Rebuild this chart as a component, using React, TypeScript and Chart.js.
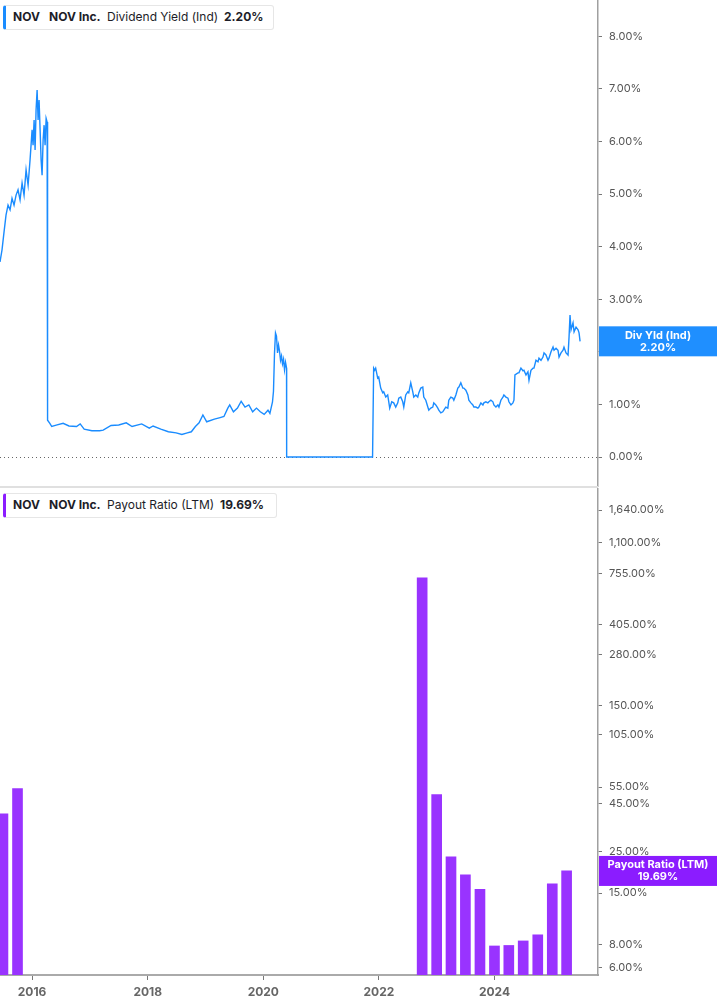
import React, { useEffect, useRef } from "react";
import Chart from "chart.js/auto";

const FONT = "Inter, 'Noto Sans', sans-serif";
const BLUE = "#1a8cff";
const BLUE_TAG = "#1f8fff";
const PURPLE = "#9933ff";
const PURPLE_TAG = "#8b1cff";

// shared time axis (decimal years)
const xMin = 2015.445;
const xMax = 2025.79;
const yearTicks = [2016, 2018, 2020, 2022, 2024];

// Dividend Yield (Ind), %
const yieldDates = [
  2015.445, 2015.48, 2015.515, 2015.549, 2015.584, 2015.619, 2015.653, 2015.688, 2015.723, 2015.757,
  2015.792, 2015.827, 2015.861, 2015.896, 2015.931, 2015.965, 2016.0, 2016.017, 2016.035, 2016.052,
  2016.069, 2016.087, 2016.104, 2016.121, 2016.139, 2016.156, 2016.173, 2016.191, 2016.208, 2016.225,
  2016.243, 2016.26, 2016.268,
  2016.307, 2016.34, 2016.433, 2016.537, 2016.638, 2016.769, 2016.832, 2016.901, 2017.035, 2017.168,
  2017.23, 2017.366, 2017.499, 2017.629, 2017.73, 2017.896, 2018.028, 2018.093, 2018.227, 2018.357,
  2018.492, 2018.591, 2018.686, 2018.755, 2018.825, 2018.889, 2018.955, 2019.021, 2019.154, 2019.253,
  2019.319, 2019.386, 2019.419, 2019.483, 2019.553, 2019.617, 2019.684, 2019.75, 2019.816, 2019.882,
  2019.948, 2020.015, 2020.081, 2020.114, 2020.159,
  2020.176, 2020.194, 2020.211, 2020.228, 2020.246, 2020.263, 2020.28, 2020.298, 2020.315, 2020.332,
  2020.35, 2020.367, 2020.384, 2020.402, 2020.404, 2021.89, 2021.909,
  2021.927, 2021.944, 2021.979, 2021.996, 2022.031, 2022.066, 2022.083, 2022.118, 2022.152, 2022.187,
  2022.222, 2022.256, 2022.291, 2022.326, 2022.343, 2022.378, 2022.412, 2022.43, 2022.464, 2022.499,
  2022.516, 2022.551, 2022.586, 2022.603, 2022.638, 2022.672, 2022.69, 2022.724, 2022.759, 2022.776,
  2022.811, 2022.846, 2022.863, 2022.897, 2022.932, 2022.949, 2022.984, 2023.019, 2023.036, 2023.071,
  2023.105, 2023.123, 2023.157, 2023.192, 2023.209, 2023.244, 2023.279, 2023.296, 2023.331, 2023.365,
  2023.383, 2023.417, 2023.452, 2023.469, 2023.504, 2023.539, 2023.556, 2023.591, 2023.625, 2023.643,
  2023.677, 2023.712, 2023.729, 2023.764, 2023.799, 2023.816, 2023.85, 2023.885, 2023.902, 2023.937,
  2023.972, 2023.989, 2024.024, 2024.058, 2024.076, 2024.11, 2024.145, 2024.162, 2024.197, 2024.232,
  2024.249, 2024.284, 2024.318, 2024.336, 2024.353, 2024.405, 2024.422, 2024.457, 2024.492, 2024.509,
  2024.544, 2024.578, 2024.596, 2024.63, 2024.665, 2024.682, 2024.717, 2024.752, 2024.769, 2024.804,
  2024.838, 2024.856, 2024.89, 2024.925, 2024.942, 2024.977, 2025.012, 2025.029, 2025.064, 2025.098,
  2025.116, 2025.15, 2025.185, 2025.202, 2025.237, 2025.272, 2025.289, 2025.306, 2025.324, 2025.358,
  2025.376, 2025.41, 2025.445, 2025.462, 2025.48,
];
const yieldValues = [
  3.71, 3.94, 4.28, 4.6, 4.79, 4.7, 4.92, 4.79, 4.98, 5.08,
  4.89, 5.21, 4.98, 5.46, 5.17, 5.65, 6.22, 5.93, 6.41, 5.84,
  6.6, 6.98, 6.41, 6.79, 6.22, 5.65, 5.36, 6.03, 6.31, 5.93,
  6.44, 6.37, 0.7,
  0.64, 0.58, 0.61, 0.64, 0.59, 0.58, 0.63, 0.53, 0.5, 0.5,
  0.51, 0.6, 0.61, 0.65, 0.58, 0.63, 0.55, 0.59, 0.53, 0.48,
  0.46, 0.43, 0.46, 0.48, 0.58, 0.65, 0.8, 0.67, 0.72, 0.75,
  0.77, 0.93, 0.99, 0.86, 0.93, 1.06, 0.95, 0.99, 0.86, 0.93,
  0.86, 0.81, 0.89, 0.83, 1.05,
  1.25, 1.98, 2.36, 2.3, 1.98, 2.13, 2.02, 1.84, 1.92, 1.77,
  1.86, 1.66, 1.8, 1.69, 0.0, 0.0, 1.69,
  1.65, 1.69, 1.5, 1.52, 1.31, 1.22, 1.24, 1.14, 1.18, 0.93,
  1.05, 1.03, 0.95, 1.03, 1.12, 1.14, 1.05, 0.95, 1.18, 1.24,
  1.22, 1.41, 1.24, 1.14, 1.18, 1.14, 1.22, 1.31, 1.33, 1.14,
  1.08, 0.95, 0.89, 0.93, 0.95, 1.03, 0.99, 0.93, 0.89, 0.84,
  0.86, 0.89, 0.95, 0.93, 1.08, 1.14, 1.12, 1.08, 1.18, 1.31,
  1.33, 1.41, 1.31, 1.31, 1.27, 1.18, 1.08, 1.03, 0.99, 0.95,
  0.95, 0.93, 0.95, 1.03, 0.99, 1.03, 1.05, 1.03, 1.05, 1.08,
  1.05, 0.99, 0.95, 0.99, 0.95, 1.08, 1.14, 1.18, 1.14, 1.12,
  1.05, 0.99, 1.03, 1.08, 1.56, 1.6, 1.6, 1.69, 1.64, 1.65,
  1.56, 1.62, 1.46, 1.65, 1.69, 1.69, 1.84, 1.81, 1.88, 1.84,
  1.9, 1.98, 1.94, 1.84, 1.88, 2.0, 2.09, 2.03, 2.07, 2.03,
  1.9, 1.98, 2.03, 2.09, 1.98, 1.94, 2.28, 2.7, 2.42, 2.55,
  2.38, 2.47, 2.42, 2.36, 2.2,
];
const yieldTicks = [0, 1, 2, 3, 4, 5, 6, 7, 8];
const currentYield = 2.2;

// Payout Ratio (LTM), % - quarterly
const payoutDates = [
  2015.496, 2015.748, 2022.748, 2022.999, 2023.247, 2023.496, 2023.748, 2023.999, 2024.247, 2024.496,
  2024.748, 2024.999, 2025.247,
];
const payoutValues = [39.7, 54, 714, 50.2, 23.4, 18.8, 15.7, 7.85, 7.9, 8.35, 9.0, 16.8, 19.69];
const payoutTicks = [6, 8, 15, 25, 45, 55, 105, 150, 280, 405, 755, 1100, 1640];
const currentPayout = 19.69;

const zeroLinePlugin = {
  id: "zeroLine",
  beforeDatasetsDraw(chart: any) {
    const { ctx, chartArea, scales } = chart;
    const y = Math.round(scales.y.getPixelForValue(0)) + 0.5;
    ctx.save();
    ctx.strokeStyle = "#666";
    ctx.lineWidth = 1;
    ctx.setLineDash([1, 3]);
    ctx.beginPath();
    ctx.moveTo(chartArea.left, y);
    ctx.lineTo(chartArea.right, y);
    ctx.stroke();
    ctx.restore();
  },
};

// coloured value tag sitting on the right axis
const makeTag = (id: string, value: number, color: string, title: string, text: string) => ({
  id,
  afterDraw(chart: any) {
    const { ctx, chartArea, scales, width } = chart;
    const y = scales.y.getPixelForValue(value);
    const left = chartArea.right + 1;
    ctx.save();
    ctx.fillStyle = color;
    ctx.fillRect(left, y - 15, width - left, 30);
    ctx.fillStyle = "#fff";
    ctx.font = `bold 11px ${FONT}`;
    ctx.textAlign = "center";
    ctx.textBaseline = "middle";
    const cx = (left + width) / 2;
    ctx.fillText(title, cx, y - 6);
    ctx.fillText(text, cx, y + 6);
    ctx.restore();
  },
});

const rightAxis = {
  position: "right" as const,
  afterFit: (s: any) => {
    s.width = 119;
    s.paddingTop = 0;
    s.paddingBottom = 0;
  },
  grid: { drawOnChartArea: false, drawTicks: true, tickLength: 4, tickColor: "#777" },
  border: { display: true, color: "#a0a0a0", width: 1.5 },
};

const legendText: React.CSSProperties = {
  position: "absolute",
  fontFamily: FONT,
  fontSize: 12,
  color: "#1d1d28",
  lineHeight: "14px",
  whiteSpace: "nowrap",
};

const App: React.FC = () => {
  const topRef = useRef<HTMLCanvasElement>(null);
  const bottomRef = useRef<HTMLCanvasElement>(null);

  useEffect(() => {
    const top = new Chart(topRef.current!, {
      type: "line",
      data: {
        datasets: [
          {
            data: yieldDates.map((d, i) => ({ x: d, y: yieldValues[i] })),
            borderColor: BLUE,
            borderWidth: 1.4,
            pointRadius: 0,
            tension: 0,
          },
        ],
      },
      options: {
        animation: false,
        responsive: false,
        layout: { padding: 0 },
        plugins: { legend: { display: false }, tooltip: { enabled: false } },
        scales: {
          x: { type: "linear", min: xMin, max: xMax, display: false },
          y: {
            ...rightAxis,
            type: "linear",
            min: -0.57,
            max: 8.69,
            afterBuildTicks: (s: any) => {
              s.ticks = yieldTicks.map((v) => ({ value: v }));
            },
            ticks: {
              padding: 7,
              color: "#555",
              font: { family: FONT, size: 11 },
              callback: (v: any) => Number(v).toFixed(2) + "%",
            },
          },
        },
      } as any,
      plugins: [zeroLinePlugin, makeTag("yieldTag", currentYield, BLUE_TAG, "Div Yld (Ind)", "2.20%")],
    });

    const bottom = new Chart(bottomRef.current!, {
      type: "bar",
      data: {
        datasets: [
          {
            data: payoutDates.map((d, i) => ({ x: d, y: payoutValues[i] })),
            backgroundColor: PURPLE,
            borderWidth: 0,
            barThickness: 10,
          },
        ],
      },
      options: {
        animation: false,
        responsive: false,
        layout: { padding: 0 },
        plugins: { legend: { display: false }, tooltip: { enabled: false } },
        scales: {
          x: {
            type: "linear",
            min: xMin,
            max: xMax,
            offset: false,
            afterBuildTicks: (s: any) => {
              s.ticks = yearTicks.map((v) => ({ value: v }));
            },
            afterFit: (s: any) => {
              s.height = 30;
              s.paddingLeft = 0;
              s.paddingRight = 0;
            },
            grid: { drawOnChartArea: false, drawTicks: true, tickLength: 5, tickColor: "#777", offset: false },
            border: { display: true, color: "#aaa", width: 2 },
            ticks: {
              padding: 5,
              color: "#666",
              autoSkip: false,
              maxRotation: 0,
              font: { family: FONT, size: 12, weight: "bold" },
              callback: (v: any) => String(v),
            },
          },
          y: {
            ...rightAxis,
            type: "logarithmic",
            min: 5.5,
            max: 2150,
            afterBuildTicks: (s: any) => {
              s.ticks = payoutTicks.map((v) => ({ value: v }));
            },
            ticks: {
              padding: 7,
              color: "#555",
              font: { family: FONT, size: 11 },
              callback: (v: any) =>
                Number(v).toLocaleString("en-US", { minimumFractionDigits: 2, maximumFractionDigits: 2 }) + "%",
            },
          },
        },
      } as any,
      plugins: [makeTag("payoutTag", currentPayout, PURPLE_TAG, "Payout Ratio (LTM)", "19.69%")],
    });

    return () => {
      top.destroy();
      bottom.destroy();
    };
  }, []);

  return (
    <div style={{ position: "absolute", left: 0, top: 0, width: 717, height: 1005, background: "#fff" }}>
      <canvas ref={topRef} width={717} height={487} style={{ position: "absolute", left: 0, top: 0 }} />
      <div style={{ position: "absolute", left: 0, top: 486, width: 598, height: 2, background: "#e0e0e0" }} />
      <canvas ref={bottomRef} width={717} height={517} style={{ position: "absolute", left: 0, top: 488 }} />

      <div
        style={{
          position: "absolute", left: 3, top: 5, width: 271, height: 25, boxSizing: "border-box",
          border: "1px solid #e6e6e6", borderLeft: `3px solid ${BLUE}`, borderRadius: 3, background: "#fff",
        }}
      />
      <span style={{ ...legendText, left: 13, top: 10, fontWeight: 700 }}>NOV</span>
      <span style={{ ...legendText, left: 49, top: 10, fontWeight: 700 }}>NOV Inc.</span>
      <span style={{ ...legendText, left: 107, top: 10, fontWeight: 400 }}>Dividend Yield (Ind)</span>
      <span style={{ ...legendText, left: 224, top: 10, fontWeight: 700 }}>2.20%</span>

      <div
        style={{
          position: "absolute", left: 3, top: 493, width: 274, height: 25, boxSizing: "border-box",
          border: "1px solid #e6e6e6", borderLeft: `3px solid ${PURPLE_TAG}`, borderRadius: 3, background: "#fff",
        }}
      />
      <span style={{ ...legendText, left: 13, top: 498, fontWeight: 700 }}>NOV</span>
      <span style={{ ...legendText, left: 49, top: 498, fontWeight: 700 }}>NOV Inc.</span>
      <span style={{ ...legendText, left: 107, top: 498, fontWeight: 400 }}>Payout Ratio (LTM)</span>
      <span style={{ ...legendText, left: 220, top: 498, fontWeight: 700 }}>19.69%</span>
    </div>
  );
};

export default App;
